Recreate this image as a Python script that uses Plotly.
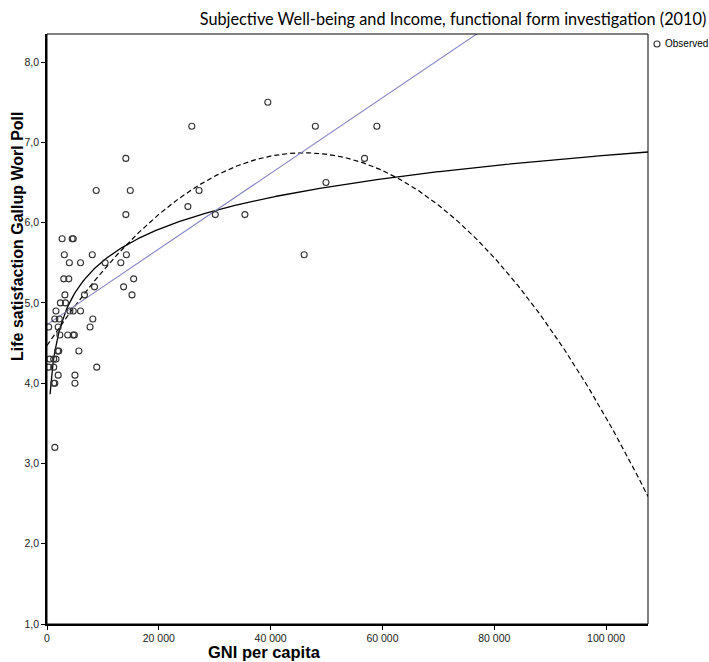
import numpy as np
import plotly.graph_objects as go

# Observed data (GNI per capita in USD, life satisfaction)
gni = [59000, 48000, 25900, 39500, 56800, 49900, 27200, 25200, 30100, 35400,
       46000, 8800, 14900, 14100, 14100, 8100, 14200, 10400, 13200, 15500,
       8500, 13700, 15200, 8200, 7700, 8900, 2700, 4500, 4700, 3100,
       4000, 6000, 3000, 3900, 3200, 6700, 2400, 3300, 1600, 4100,
       4700, 6000, 1400, 2200, 300, 2000, 2300, 3700, 4700, 4900,
       5700, 1900, 2100, 500, 1200, 1600, 300, 1200, 2000, 5000,
       1200, 1400, 5000, 1400]
life_sat = [7.2, 7.2, 7.2, 7.5, 6.8, 6.5, 6.4, 6.2, 6.1, 6.1,
            5.6, 6.4, 6.4, 6.1, 6.8, 5.6, 5.6, 5.5, 5.5, 5.3,
            5.2, 5.2, 5.1, 4.8, 4.7, 4.2, 5.8, 5.8, 5.8, 5.6,
            5.5, 5.5, 5.3, 5.3, 5.1, 5.1, 5.0, 5.0, 4.9, 4.9,
            4.9, 4.9, 4.8, 4.8, 4.7, 4.7, 4.6, 4.6, 4.6, 4.6,
            4.4, 4.4, 4.4, 4.3, 4.3, 4.3, 4.2, 4.2, 4.1, 4.1,
            4.0, 4.0, 4.0, 3.2]

# Fitted model coefficients
linear_coef = [4.73, 4.71e-5]                 # a + b*x
quadratic_coef = [4.47, 1.043e-4, -1.133e-9]  # a + b*x + c*x^2
log_coef = [0.253, 0.572]                     # a + b*ln(x)

x_range = [0, 107500]
y_range = [1.0, 8.35]
x_ticks = [0, 20000, 40000, 60000, 80000, 100000]
x_tick_text = ["0", "20 000", "40 000", "60 000", "80 000", "100 000"]
y_ticks = [1, 2, 3, 4, 5, 6, 7, 8]
y_tick_text = ["1,0", "2,0", "3,0", "4,0", "5,0", "6,0", "7,0", "8,0"]
legend_label = "Observed"

xs = np.linspace(x_range[0], x_range[1], 400)
xs_log = np.linspace(550, x_range[1], 400)
y_lin = linear_coef[0] + linear_coef[1] * xs
y_quad = quadratic_coef[0] + quadratic_coef[1] * xs + quadratic_coef[2] * xs ** 2
y_log = log_coef[0] + log_coef[1] * np.log(xs_log)

fig = go.Figure()
fig.add_trace(go.Scatter(x=xs, y=y_quad, mode="lines", name="Quadratic",
                         line=dict(color="black", width=1.2, dash="5px,3px")))
fig.add_trace(go.Scatter(x=xs_log, y=y_log, mode="lines", name="Logarithmic",
                         line=dict(color="black", width=1.3)))
fig.add_trace(go.Scatter(x=xs, y=y_lin, mode="lines", name="Linear",
                         line=dict(color="#8585c2", width=1.1)))
fig.add_trace(go.Scatter(x=gni, y=life_sat, mode="markers", name=legend_label,
                         marker=dict(symbol="circle-open", size=6,
                                     color="#333333", line=dict(width=1.1))))

W, H = 709, 662
L, R, T, B = 47, 648, 34, 624
pw, ph = R - L, B - T

def px(xp):
    return (xp - L) / pw

def py(yp):
    return (B - yp) / ph

axis_font = dict(family="Liberation Sans, Arial, sans-serif", size=10.5, color="#222222")
fig.update_layout(
    width=W, height=H, autosize=False, showlegend=False,
    margin=dict(l=L, r=W - R, t=T, b=H - B, autoexpand=False),
    paper_bgcolor="white", plot_bgcolor="white",
    title=dict(text="Subjective Well-being and Income, functional form investigation (2010)",
               x=453 / W, xanchor="center", xref="container",
               y=1 - 19 / H, yanchor="middle", yref="container",
               font=dict(family="Lato, Carlito, sans-serif", size=16.3, color="black")),
    xaxis=dict(range=x_range, tickvals=x_ticks, ticktext=x_tick_text,
               showgrid=False, zeroline=False, showline=True, linecolor="black",
               linewidth=1.5, ticks="outside", ticklen=4, tickcolor="black",
               tickfont=axis_font),
    yaxis=dict(range=y_range, tickvals=y_ticks, ticktext=y_tick_text,
               showgrid=False, zeroline=False, showline=True, linecolor="black",
               linewidth=1.5, ticks="outside", ticklen=4, tickcolor="black",
               tickfont=axis_font),
    shapes=[
        dict(type="rect", xref="paper", yref="paper", x0=0, x1=1, y0=0, y1=1,
             line=dict(color="black", width=1), layer="above"),
        dict(type="circle", xref="paper", yref="paper",
             x0=px(654), x1=px(660), y0=py(47), y1=py(41),
             line=dict(color="#333333", width=1.1)),
    ],
    annotations=[
        dict(text=legend_label, xref="paper", yref="paper",
             x=px(663), y=py(44), xanchor="left", yanchor="middle", showarrow=False,
             font=dict(family="Liberation Sans, Arial, sans-serif", size=10, color="black")),
        dict(text="<b>GNI per capita</b>", xref="paper", yref="paper",
             x=px(264), y=py(652), xanchor="center", yanchor="middle",
             showarrow=False, font=dict(family="Liberation Sans, Arial, sans-serif", size=16.5, color="black")),
        dict(text="<b>Life satisfaction Gallup Worl Poll</b>", xref="paper", yref="paper",
             x=px(17), y=py(236), xanchor="center", yanchor="middle",
             textangle=-90, showarrow=False,
             font=dict(family="Liberation Sans, Arial, sans-serif", size=16, color="black")),
    ],
)

fig.write_html("out.html")
